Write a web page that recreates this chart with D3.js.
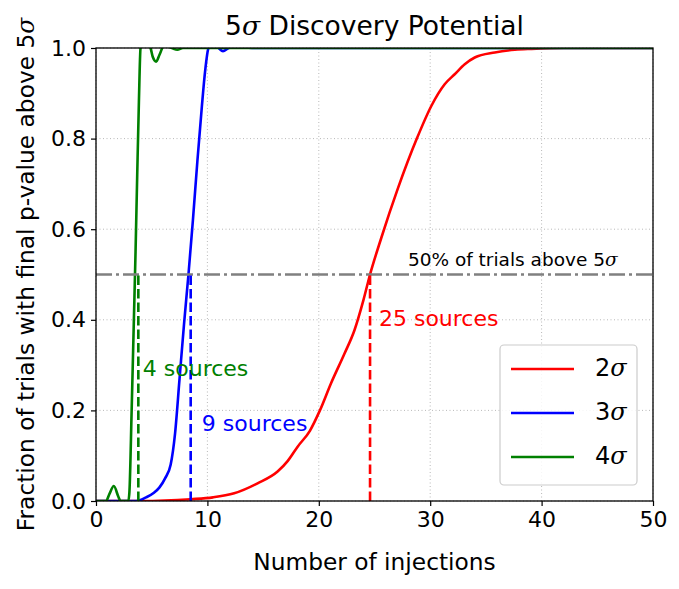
<!DOCTYPE html>
<html>
<head>
<meta charset="utf-8">
<script src="https://cdn.jsdelivr.net/npm/d3@7"></script>
<style>
  html, body { margin: 0; padding: 0; background: #fff; }
  svg { display: block; }
  text { font-family: "DejaVu Sans", sans-serif; }
</style>
</head>
<body>
<div id="chart"></div>
<script>
// ---------- data ----------
const title = "5σ Discovery Potential";
const xLabel = "Number of injections";
const yLabel = "Fraction of trials with final p-value above 5σ";
const xTicks = [0, 10, 20, 30, 40, 50];
const yTicks = [0.0, 0.2, 0.4, 0.6, 0.8, 1.0];

const seriesNames = ["2σ", "3σ", "4σ"];
const seriesColors = ["red", "blue", "green"];

const red2x = [0, 4, 8.5, 10.5, 12.4, 14.5, 16.3, 17.2, 18.1, 19.2, 20.1, 21.1, 22.3, 23.2, 24.0, 24.6, 25.6, 27.1, 28.8, 30.1, 31.3, 32.2, 33.1, 34.0, 35.8, 37.6, 39.1, 42, 50];
const red2y = [0, 0, 0.004, 0.008, 0.017, 0.039, 0.065, 0.088, 0.12, 0.155, 0.2, 0.26, 0.325, 0.377, 0.443, 0.5, 0.58, 0.69, 0.80, 0.872, 0.92, 0.942, 0.964, 0.979, 0.990, 0.996, 0.998, 1.0, 1.0];

const blue3x = [0, 3.6, 4.5, 5.2, 5.7, 6.2, 6.7, 7.1, 7.5, 7.9, 8.3, 8.7, 9.1, 9.5, 9.8, 10.1, 10.5, 11.0, 11.4, 11.9, 12.5, 14, 50];
const blue3y = [0, 0, 0.008, 0.018, 0.03, 0.05, 0.08, 0.15, 0.27, 0.39, 0.5, 0.62, 0.75, 0.87, 0.95, 1.0, 1.01, 1.0, 0.993, 1.0, 1.003, 1.0, 1.0];

const green4x = [0, 0.9, 1.2, 1.6, 2.0, 2.2, 2.9, 3.0, 3.2, 3.4, 3.55, 3.7, 3.85, 4.0, 4.4, 4.9, 5.1, 5.4, 5.7, 6.1, 6.8, 7.3, 7.8, 9, 50];
const green4y = [0, 0, 0.015, 0.033, 0.01, 0, 0, 0.02, 0.2, 0.4, 0.55, 0.72, 0.88, 1.0, 1.02, 1.0, 0.98, 0.97, 0.985, 1.005, 1.0, 0.996, 1.0, 1.0, 1.0];

const markerX = [24.6, 8.5, 3.8];           // dashed lines at 50% crossing
const markerLabels = ["25 sources", "9 sources", "4 sources"];
const markerLabelPos = [[25.4, 0.40], [9.5, 0.167], [4.2, 0.29]];
const threshold = 0.5;
const thresholdLabel = "50% of trials above 5";

// ---------- layout ----------
const W = 679, H = 589;
const m = { left: 96, right: W - 653, top: 48, bottom: H - 501 };

const svg = d3.select("#chart").append("svg").attr("width", W).attr("height", H);

const x = d3.scaleLinear().domain([0, 50]).range([m.left, W - m.right]);
const y = d3.scaleLinear().domain([0, 1]).range([H - m.bottom, m.top]);

svg.append("clipPath").attr("id", "clip").append("rect")
  .attr("x", m.left).attr("y", m.top)
  .attr("width", x(50) - x(0)).attr("height", y(0) - y(1));

// grid
const grid = svg.append("g").attr("stroke", "#b0b0b0").attr("stroke-width", 0.9).attr("stroke-dasharray", "1,2.5");
grid.selectAll("line.vx").data(xTicks).join("line")
  .attr("x1", d => x(d)).attr("x2", d => x(d)).attr("y1", y(0)).attr("y2", y(1));
grid.selectAll("line.hy").data(yTicks).join("line")
  .attr("x1", x(0)).attr("x2", x(50)).attr("y1", d => y(d)).attr("y2", d => y(d));

// lines
const line = d3.line().x(d => x(d[0])).y(d => y(d[1])).curve(d3.curveMonotoneX);
const seriesData = [
  d3.zip(red2x, red2y),
  d3.zip(blue3x, blue3y),
  d3.zip(green4x, green4y)
];
const plot = svg.append("g").attr("clip-path", "url(#clip)");
seriesData.forEach((s, i) => {
  plot.append("path").datum(s)
    .attr("fill", "none").attr("stroke", seriesColors[i]).attr("stroke-width", 2.6)
    .attr("stroke-linejoin", "round")
    .attr("d", line);
});

// threshold dash-dot
plot.append("line")
  .attr("x1", x(0)).attr("x2", x(50)).attr("y1", y(threshold)).attr("y2", y(threshold))
  .attr("stroke", "gray").attr("stroke-width", 2.6).attr("stroke-dasharray", "16,4,3,4");

// dashed markers
markerX.forEach((mx, i) => {
  plot.append("line")
    .attr("x1", x(mx)).attr("x2", x(mx)).attr("y1", y(0)).attr("y2", y(threshold))
    .attr("stroke", seriesColors[i]).attr("stroke-width", 2.6).attr("stroke-dasharray", "9.5,4");
  svg.append("text")
    .attr("x", x(markerLabelPos[i][0])).attr("y", y(markerLabelPos[i][1]))
    .attr("dominant-baseline", "middle")
    .attr("fill", seriesColors[i]).attr("font-size", 22)
    .text(markerLabels[i]);
});

const tl = svg.append("text")
  .attr("x", x(28.0)).attr("y", y(0.5) - 9)
  .attr("font-size", 18.5).attr("fill", "black");
tl.append("tspan").text(thresholdLabel);
tl.append("tspan").attr("font-style", "italic").attr("font-family", "'DejaVu Serif', serif").text("σ");

// axes
const xAxis = d3.axisBottom(x).tickValues(xTicks).tickFormat(d3.format("d")).tickSizeOuter(0).tickSize(5).tickPadding(5);
const yAxis = d3.axisLeft(y).tickValues(yTicks).tickFormat(d3.format(".1f")).tickSizeOuter(0).tickSize(5).tickPadding(5);

const gx = svg.append("g").attr("transform", `translate(0,${y(0)})`).call(xAxis);
const gy = svg.append("g").attr("transform", `translate(${x(0)},0)`).call(yAxis);
[gx, gy].forEach(g => {
  g.select(".domain").remove();
  g.selectAll("line").attr("stroke", "black").attr("stroke-width", 1.2);
  g.selectAll("text").attr("font-size", 22).attr("fill", "black").attr("font-family", "'DejaVu Sans', sans-serif");
});

// spines
svg.append("rect")
  .attr("x", x(0)).attr("y", y(1)).attr("width", x(50) - x(0)).attr("height", y(0) - y(1))
  .attr("fill", "none").attr("stroke", "black").attr("stroke-width", 1.3);

// legend
const lg = svg.append("g");
lg.append("rect").attr("x", 500).attr("y", 345).attr("width", 137).attr("height", 140)
  .attr("rx", 4).attr("fill", "white").attr("fill-opacity", 0.85)
  .attr("stroke", "#cccccc").attr("stroke-width", 1.2);
seriesNames.forEach((name, i) => {
  const ly = 369 + i * 44;
  lg.append("line").attr("x1", 511).attr("x2", 574).attr("y1", ly).attr("y2", ly)
    .attr("stroke", seriesColors[i]).attr("stroke-width", 2.6);
  const t = lg.append("text").attr("x", 595).attr("y", ly).attr("dominant-baseline", "middle")
    .attr("font-size", 24).attr("fill", "black");
  t.append("tspan").text(name[0]);
  t.append("tspan").attr("font-style", "italic").attr("font-family", "'DejaVu Serif', serif").text(name.slice(1));
});

// titles
const tt = svg.append("text").attr("x", (x(0) + x(50)) / 2).attr("y", 35)
  .attr("text-anchor", "middle").attr("font-size", 26.5).attr("fill", "black");
tt.append("tspan").text(title[0]);
tt.append("tspan").attr("font-style", "italic").attr("font-family", "'DejaVu Serif', serif").text(title[1]);
tt.append("tspan").text(title.slice(2));
svg.append("text").attr("x", (x(0) + x(50)) / 2).attr("y", 570)
  .attr("text-anchor", "middle").attr("font-size", 23.3).attr("fill", "black").text(xLabel);
const yl = svg.append("text")
  .attr("transform", `translate(34,${(y(0) + y(1)) / 2}) rotate(-90)`)
  .attr("text-anchor", "middle").attr("font-size", 23.3).attr("fill", "black");
yl.append("tspan").text(yLabel.slice(0, -1));
yl.append("tspan").attr("font-style", "italic").attr("font-family", "'DejaVu Serif', serif").text(yLabel.slice(-1));
</script>
</body>
</html>
